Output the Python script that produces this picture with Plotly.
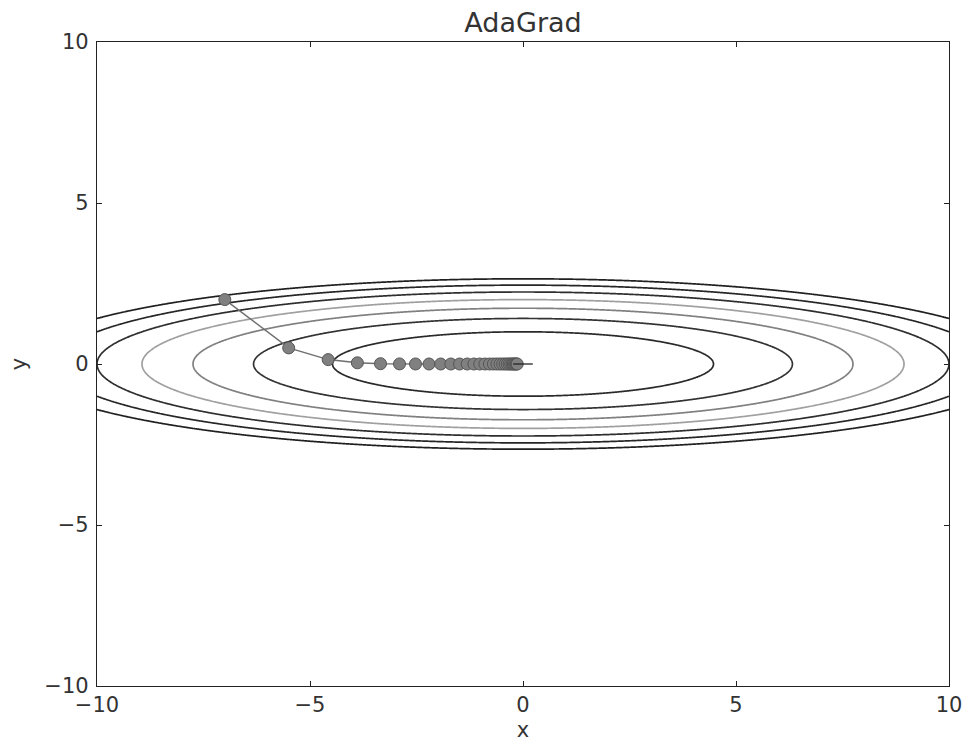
import numpy as np
import plotly.graph_objects as go

# AdaGrad optimisation path
path_x = [-7.0, -5.5, -4.573, -3.888, -3.345, -2.899, -2.524, -2.206, -1.932, -1.695,
          -1.489, -1.310, -1.153, -1.015, -0.895, -0.788, -0.695, -0.613, -0.540, -0.477,
          -0.420, -0.371, -0.327, -0.289, -0.255, -0.225, -0.198, -0.175, -0.154, -0.136]
path_y = [2.0, 0.5, 0.136, 0.037, 0.010, 0.003, 0.0008, 0.0002, 0.0001, 0.0,
          0.0, 0.0, 0.0, 0.0, 0.0, 0.0, 0.0, 0.0, 0.0, 0.0,
          0.0, 0.0, 0.0, 0.0, 0.0, 0.0, 0.0, 0.0, 0.0, 0.0]

# contour levels of f(x, y) = x^2/20 + y^2 and their grey tones
levels = [1, 2, 3, 4, 5, 6, 7]
level_colors = ["#2a2a2a", "#333333", "#808080", "#a0a0a0", "#2e2e2e", "#262626", "#202020"]

tick_vals = [-10, -5, 0, 5, 10]
tick_text = ["\u221210", "\u22125", "0", "5", "10"]

gx = np.linspace(-10, 10, 801)
gy = np.linspace(-5, 5, 401)
GX, GY = np.meshgrid(gx, gy)
GZ = GX ** 2 / 20.0 + GY ** 2

fig = go.Figure()
for lev, col in zip(levels, level_colors):
    fig.add_trace(go.Contour(
        x=gx, y=gy, z=GZ,
        contours=dict(start=lev, end=lev, size=1, coloring="lines"),
        colorscale=[[0, col], [1, col]],
        line=dict(width=1.7),
        showscale=False, hoverinfo="skip",
    ))

fig.add_trace(go.Scatter(
    x=path_x, y=path_y, mode="lines+markers",
    line=dict(color="#6e6e6e", width=1.5),
    marker=dict(size=12, color="#808080", line=dict(color="#555555", width=1)),
    showlegend=False,
))
fig.add_trace(go.Scatter(
    x=[0], y=[0], mode="markers",
    marker=dict(symbol="line-ew", size=14, line=dict(color="#222222", width=1.3)),
    showlegend=False,
))

axis_common = dict(
    range=[-10, 10], tickvals=tick_vals, ticktext=tick_text,
    ticks="inside", ticklen=5, tickcolor="#222", tickwidth=1,
    showline=True, linecolor="#222", linewidth=1.2, mirror="ticks",
    showgrid=False, zeroline=False, automargin=False,
    tickfont=dict(family="DejaVu Sans", size=21, color="#333"),
)

fig.update_layout(
    width=966, height=742,
    margin=dict(l=97, r=17, t=42, b=56, autoexpand=False),
    plot_bgcolor="white", paper_bgcolor="white",
    showlegend=False,
    title=dict(text="AdaGrad", xref="paper", x=0.5, xanchor="center",
               yref="container", y=0.9825, yanchor="top",
               font=dict(family="DejaVu Sans", size=27, color="#333")),
    xaxis=dict(axis_common, title=dict(text="x", standoff=12,
               font=dict(family="DejaVu Sans", size=21, color="#333"))),
    yaxis=dict(axis_common, ticklabelstandoff=3, title=dict(text="y", standoff=12,
               font=dict(family="DejaVu Sans", size=21, color="#333"))),
)

fig.write_html(
    "out.html",
    config={"displayModeBar": False},
    post_script="document.body.style.margin='0';document.body.style.overflow='hidden';",
)
